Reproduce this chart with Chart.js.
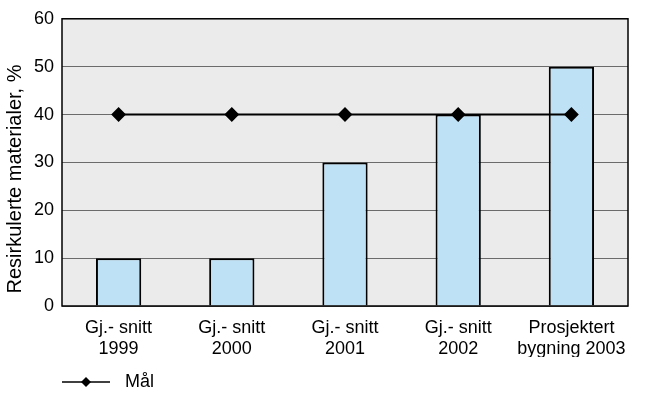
<!DOCTYPE html>
<html>
<head>
<meta charset="utf-8">
<script src="https://cdn.jsdelivr.net/npm/chart.js@4.4.1/dist/chart.umd.min.js"></script>
<style>
  html, body { margin: 0; padding: 0; background: #fff; }
  #wrap { width: 648px; height: 393px; }
</style>
</head>
<body>
<div id="wrap"><canvas id="chart" width="648" height="393"></canvas></div>
<script>
// category labels (multi-line)
const categories = [
  ['Gj.- snitt', '1999'],
  ['Gj.- snitt', '2000'],
  ['Gj.- snitt', '2001'],
  ['Gj.- snitt', '2002'],
  ['Prosjektert', 'bygning 2003'],
];
// recycled materials, %
const recycledValues = [10, 10, 30, 40, 50];
// target line
const targetLabel = 'Mål';
const targetValues = [40, 40, 40, 40, 40];
const yTicks = [0, 10, 20, 30, 40, 50, 60];
const yTitle = 'Resirkulerte materialer, %';

const FONT = '"Liberation Sans", Arial, sans-serif';

// legend symbol: short line with diamond, some blank room on the right
function legendSymbol() {
  const c = document.createElement('canvas');
  c.width = 54; c.height = 12;
  const g = c.getContext('2d');
  g.strokeStyle = '#000';
  g.lineWidth = 1.5;
  g.beginPath(); g.moveTo(0, 6); g.lineTo(48, 6); g.stroke();
  g.fillStyle = '#000';
  g.beginPath();
  g.moveTo(24, 1); g.lineTo(29, 6); g.lineTo(24, 11); g.lineTo(19, 6);
  g.closePath(); g.fill();
  return c;
}

const plotBg = {
  id: 'plotBg',
  afterLayout(chart) {
    // nudge legend to line up under the plot like the original
    const lg = chart.legend;
    if (lg) {
      lg.left += 54;
      lg.top += 8;
      lg.bottom += 8;
    }
  },
  beforeDraw(chart) {
    const { ctx, chartArea: a } = chart;
    ctx.save();
    ctx.fillStyle = '#ebebeb';
    ctx.fillRect(a.left, a.top, a.right - a.left, a.bottom - a.top);
    ctx.restore();
  },
  afterDraw(chart) {
    const { ctx, chartArea: a } = chart;
    ctx.save();
    ctx.strokeStyle = '#000';
    ctx.lineWidth = 1.5;
    ctx.strokeRect(a.left, a.top, a.right - a.left, a.bottom - a.top);
    // y axis title
    ctx.translate(15, 179);
    ctx.rotate(-Math.PI / 2);
    ctx.fillStyle = '#000';
    ctx.font = '20px ' + FONT;
    ctx.textAlign = 'center';
    ctx.textBaseline = 'middle';
    ctx.fillText(yTitle, 0, 0);
    ctx.restore();
  }
};

const symbol = legendSymbol();

new Chart(document.getElementById('chart'), {
  data: {
    labels: categories,
    datasets: [
      {
        type: 'line',
        label: targetLabel,
        data: targetValues,
        borderColor: '#000',
        borderWidth: 2,
        pointStyle: 'rectRot',
        pointRadius: 6,
        pointBackgroundColor: '#000',
        pointBorderColor: '#000',
        order: 0,
      },
      {
        type: 'bar',
        label: 'Resirkulert',
        data: recycledValues,
        backgroundColor: '#bfe1f5',
        borderColor: '#000',
        borderWidth: 2,
        categoryPercentage: 1,
        barPercentage: 0.4,
        order: 1,
      },
    ],
  },
  options: {
    responsive: false,
    animation: false,
    layout: { padding: { top: 12, right: 20, left: 0, bottom: 0 } },
    plugins: {
      tooltip: { enabled: false },
      legend: {
        position: 'bottom',
        align: 'start',
        labels: {
          filter: (item) => item.text === targetLabel,
          usePointStyle: true,
          pointStyle: symbol,
          pointStyleWidth: 54,
          font: { family: FONT, size: 18 },
          color: '#000',
          padding: 8,
        },
      },
    },
    scales: {
      x: {
        grid: { display: false },
        border: { display: false },
        ticks: {
          color: '#000',
          font: { family: FONT, size: 18, lineHeight: 1.2 },
          maxRotation: 0,
          autoSkip: false,
          padding: 3,
        },
        afterFit(scale) { scale.height = 51; },
      },
      y: {
        min: 0,
        max: 60,
        afterBuildTicks(scale) { scale.ticks = yTicks.map(v => ({ value: v })); },
        grid: { color: '#6b6b6b', lineWidth: 1, drawTicks: false },
        border: { display: false },
        ticks: {
          color: '#000',
          font: { family: FONT, size: 18 },
          padding: 8,
        },
        afterFit(scale) { scale.width = 62; },
      },
    },
  },
  plugins: [plotBg],
});
</script>
</body>
</html>
